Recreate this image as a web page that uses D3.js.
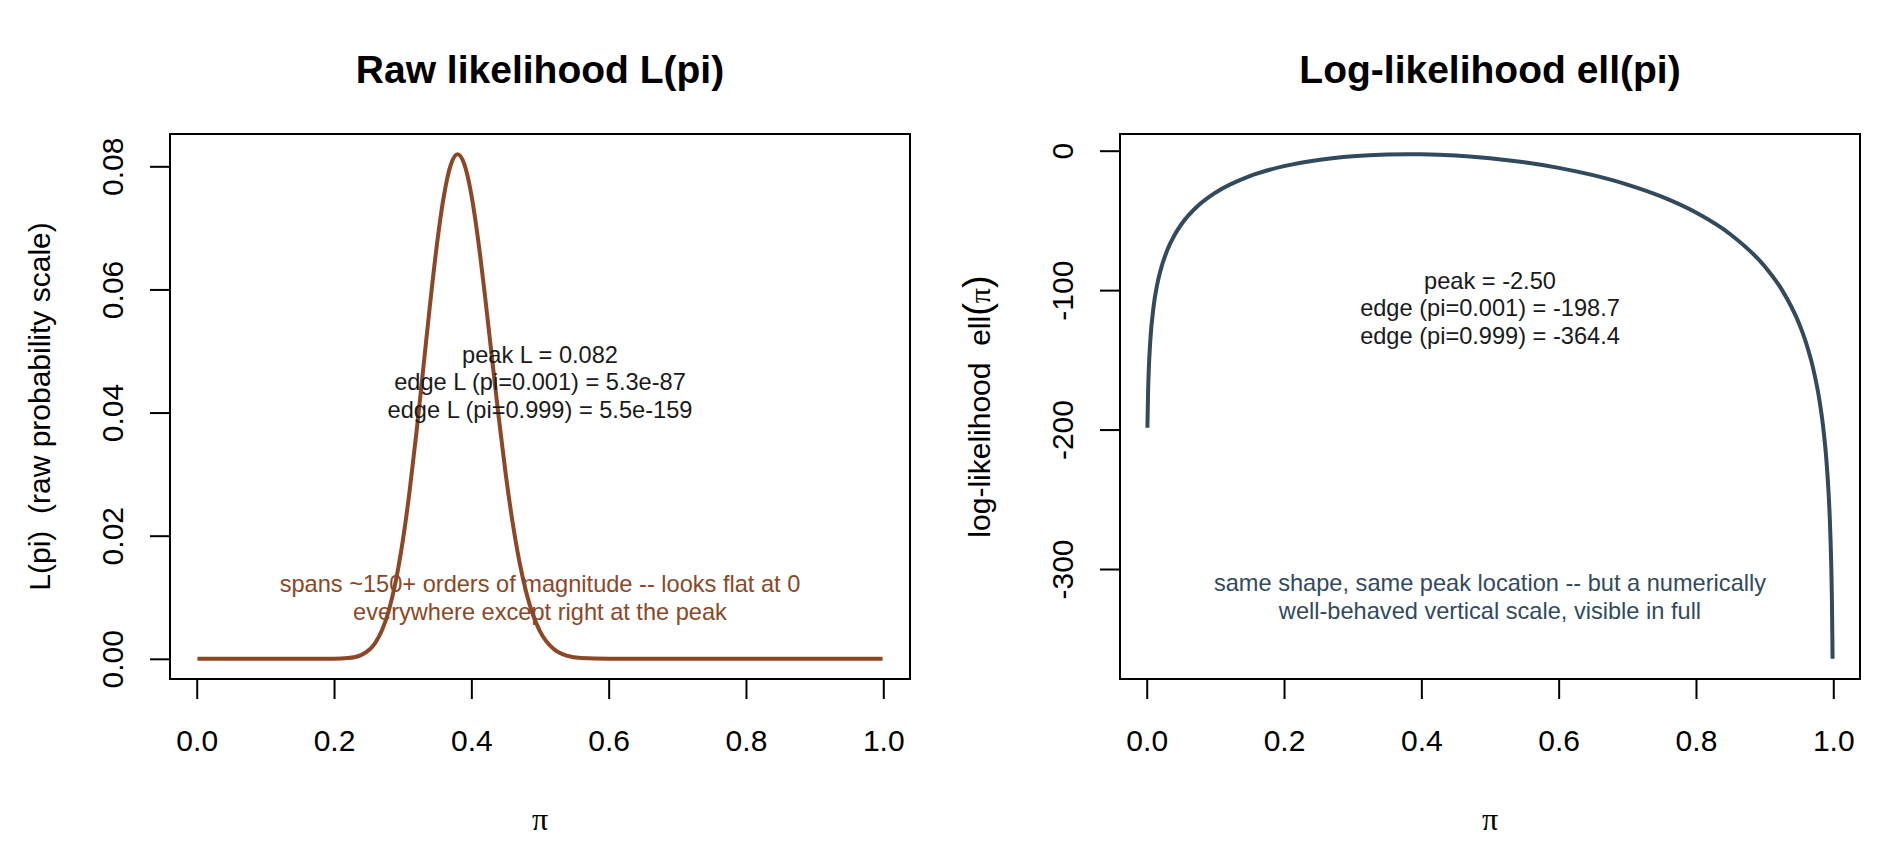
<!DOCTYPE html>
<html>
<head>
<meta charset="utf-8">
<script src="https://cdn.jsdelivr.net/npm/d3@7"></script>
<style>
  html, body { margin: 0; padding: 0; background: #ffffff; }
  svg { display: block; font-family: "Liberation Sans", Arial, sans-serif; }
  text { white-space: pre; }
</style>
</head>
<body>
<svg id="chart" width="1900" height="850"></svg>
<script>
// ---- data ----
// log-likelihood ell(pi), right panel
const piLog = [0.001, 0.002, 0.003, 0.005, 0.01, 0.015, 0.02, 0.03, 0.04, 0.05, 0.075, 0.1, 0.15, 0.2, 0.25, 0.3, 0.35, 0.38, 0.4, 0.45, 0.5, 0.55, 0.6, 0.65, 0.7, 0.75, 0.8, 0.85, 0.9, 0.925, 0.95, 0.96, 0.97, 0.98, 0.985, 0.99, 0.993, 0.995, 0.997, 0.998, 0.999];
const ellValues = [-198.65, -172.37, -157.03, -137.74, -111.72, -96.62, -86.01, -71.23, -60.94, -53.11, -39.36, -30.13, -18.26, -11.09, -6.61, -3.96, -2.70, -2.50, -2.59, -3.50, -5.41, -8.32, -12.32, -17.55, -24.30, -32.98, -44.36, -59.89, -82.86, -99.65, -123.78, -137.22, -154.66, -179.41, -197.05, -222.00, -244.00, -264.78, -296.38, -321.48, -364.41];

// raw likelihood L(pi), left panel
const piRaw = [0.001, 0.05, 0.1, 0.15, 0.2, 0.22, 0.24, 0.26, 0.27, 0.28, 0.29, 0.30, 0.31, 0.32, 0.33, 0.34, 0.35, 0.36, 0.37, 0.38, 0.39, 0.40, 0.41, 0.42, 0.43, 0.44, 0.45, 0.46, 0.47, 0.48, 0.49, 0.50, 0.52, 0.54, 0.56, 0.6, 0.7, 0.8, 0.9, 0.999];
const rawValues = [5.3e-87, 9e-24, 8.2e-14, 1.2e-8, 1.5e-5, 0.000119, 0.000649, 0.00260, 0.00469, 0.00794, 0.01266, 0.01907, 0.02716, 0.03671, 0.04718, 0.05774, 0.06742, 0.07520, 0.08025, 0.08197, 0.08027, 0.07540, 0.06795, 0.05883, 0.04893, 0.03912, 0.03008, 0.02222, 0.01579, 0.01079, 0.00708, 0.00447, 0.00158, 0.000474, 0.000120, 4.5e-6, 2.8e-11, 5.4e-20, 1.0e-36, 5.5e-159];

const xTicks = [0, 0.2, 0.4, 0.6, 0.8, 1.0];
const rawTicks = [0, 0.02, 0.04, 0.06, 0.08];
const logTicks = [0, -100, -200, -300];

const titles = ["Raw likelihood L(pi)", "Log-likelihood ell(pi)"];
const rawNotes = ["peak L = 0.082", "edge L (pi=0.001) = 5.3e-87", "edge L (pi=0.999) = 5.5e-159"];
const rawNotes2 = ["spans ~150+ orders of magnitude -- looks flat at 0", "everywhere except right at the peak"];
const logNotes = ["peak = -2.50", "edge (pi=0.001) = -198.7", "edge (pi=0.999) = -364.4"];
const logNotes2 = ["same shape, same peak location -- but a numerically", "well-behaved vertical scale, visible in full"];

// ---- styling ----
const brown = "#8B4726";
const slate = "#324A5C";
const FONT = '"Liberation Sans", Arial, sans-serif';
const SERIF = '"Liberation Serif", "Times New Roman", serif';

const svg = d3.select("#chart");
svg.append("rect").attr("width", 1900).attr("height", 850).attr("fill", "#fff");

const plotTop = 134, plotBottom = 679;
const panels = [
  { left: 170, right: 910 },
  { left: 1120, right: 1860 }
];

function padded(ext) {
  const d = ext[1] - ext[0];
  return [ext[0] - 0.04 * d, ext[1] + 0.04 * d];
}

function drawPanel(p, cfg) {
  const g = svg.append("g");
  const x = d3.scaleLinear().domain(padded(d3.extent(cfg.xs))).range([p.left, p.right]);
  const y = d3.scaleLinear().domain(padded(d3.extent(cfg.ys))).range([plotBottom, plotTop]);
  const cx = (p.left + p.right) / 2;

  // title
  g.append("text").attr("x", cx).attr("y", 83).attr("text-anchor", "middle")
    .attr("font-family", FONT).attr("font-weight", "bold").attr("font-size", 39)
    .text(cfg.title);

  // x axis
  const xa = g.append("g").attr("transform", `translate(0,${plotBottom})`)
    .call(d3.axisBottom(x).tickValues(xTicks).tickSize(20).tickFormat(d3.format(".1f")));
  xa.select(".domain").remove();
  xa.selectAll(".tick line").attr("stroke", "#000").attr("stroke-width", 2);
  xa.selectAll(".tick text").attr("y", 72).attr("dy", null)
    .attr("font-family", FONT).attr("font-size", 30).attr("fill", "#000");

  // y axis
  const ya = g.append("g").attr("transform", `translate(${p.left},0)`)
    .call(d3.axisLeft(y).tickValues(cfg.yTicks).tickSize(20).tickFormat(cfg.yFormat));
  ya.select(".domain").remove();
  ya.selectAll(".tick line").attr("stroke", "#000").attr("stroke-width", 2);
  ya.selectAll(".tick text").attr("x", null).attr("dy", null).attr("y", null)
    .attr("text-anchor", "middle")
    .attr("transform", "translate(-47,0) rotate(-90)")
    .attr("font-family", FONT).attr("font-size", 30).attr("fill", "#000");

  // curve
  const line = d3.line().x((d, i) => x(cfg.xs[i])).y(d => y(d)).curve(d3.curveMonotoneX);
  g.append("path").datum(cfg.ys).attr("d", line).attr("fill", "none")
    .attr("stroke", cfg.color).attr("stroke-width", 4).attr("stroke-linejoin", "round");

  // box
  g.append("rect").attr("x", p.left).attr("y", plotTop)
    .attr("width", p.right - p.left).attr("height", plotBottom - plotTop)
    .attr("fill", "none").attr("stroke", "#000").attr("stroke-width", 2);

  // x label (pi)
  g.append("text").attr("x", cx).attr("y", 830).attr("text-anchor", "middle")
    .attr("font-family", SERIF).attr("font-size", 32).text("π");

  // y label
  const yl = g.append("text").attr("text-anchor", "middle")
    .attr("transform", `translate(${p.left - cfg.ylabOffset},${(plotTop + plotBottom) / 2}) rotate(-90)`)
    .attr("font-family", FONT).attr("font-size", 30).attr("fill", "#000");
  cfg.ylab(yl);

  // annotations
  const lh = 27.5;
  function block(lines, yMid, color) {
    const n = lines.length;
    lines.forEach((t, i) => {
      g.append("text").attr("x", x(0.5))
        .attr("y", y(yMid) + (i - (n - 1) / 2) * lh + 8.5)
        .attr("text-anchor", "middle").attr("font-family", FONT).attr("font-size", 23.6)
        .attr("fill", color).text(t);
    });
  }
  block(cfg.notes, cfg.notesY, "#1a1a1a");
  block(cfg.notes2, cfg.notes2Y, cfg.color);
}

drawPanel(panels[0], {
  xs: piRaw, ys: rawValues, color: brown, title: titles[0],
  yTicks: rawTicks, yFormat: d3.format(".2f"),
  ylabOffset: 120,
  ylab: t => t.text("L(pi)\u00A0\u00A0(raw probability scale)"),
  notes: rawNotes, notesY: 0.045,
  notes2: rawNotes2, notes2Y: 0.01
});

drawPanel(panels[1], {
  xs: piLog, ys: ellValues, color: slate, title: titles[1],
  yTicks: logTicks, yFormat: d => d.toFixed(0),
  ylabOffset: 130,
  ylab: t => {
    t.append("tspan").text("log-likelihood\u00A0\u00A0ell");
    t.append("tspan").attr("font-size", 38).attr("font-weight", 300).text("(");
    t.append("tspan").attr("font-family", SERIF).text("π");
    t.append("tspan").attr("font-size", 38).attr("font-weight", 300).text(")");
  },
  notes: logNotes, notesY: -112.8,
  notes2: logNotes2, notes2Y: -319.7
});
</script>
</body>
</html>
